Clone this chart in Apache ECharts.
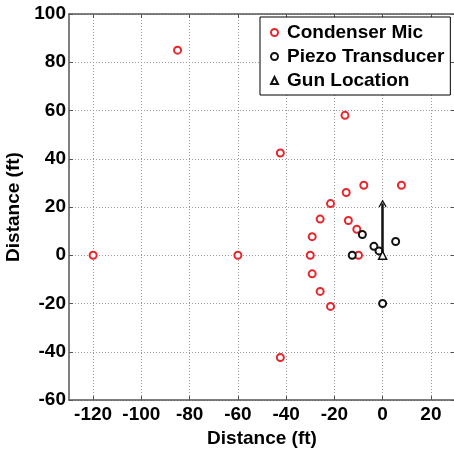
<!DOCTYPE html>
<html><head><meta charset="utf-8">
<script src="https://cdn.jsdelivr.net/npm/echarts@6/dist/echarts.min.js"></script>
<style>html,body{margin:0;padding:0;background:#fff}#c{width:454px;height:449px}</style>
</head><body><div id="c"></div>
<script>
const xTicks = [-120, -100, -80, -60, -40, -20, 0, 20];
const yTicks = [-60, -40, -20, 0, 20, 40, 60, 80, 100];
const micX = [-120, -85, -60, -42.4, -42.4, -30, -29.2, -29.2, -25.9, -25.9, -21.6, -21.6, -15.6, -15.1, -14.2, -10.7, -10, -7.8, 7.8];
const micY = [0, 85, 0, 42.4, -42.4, 0, 7.7, -7.7, 15, -15, 21.4, -21.2, 58, 26, 14.4, 10.8, 0, 29, 29];
const piezoX = [-12.6, -8.4, -3.6, -1.5, 5.4, 0];
const piezoY = [0, 8.6, 3.7, 1.8, 5.7, -20];
const gunX = [0];
const gunY = [0];
const arrowFrom = [0, 0];
const arrowTo = [0, 21.5];

const font = 'Liberation Sans';
const axisColor = '#555';
const chart = echarts.init(document.getElementById('c'));
const zip = (a, b) => a.map((v, i) => [v, b[i]]);
const txt = {fontFamily: font, fontSize: 19, fontWeight: 'bold', color: '#000'};
const axisCommon = {
  axisLine: {onZero: false, lineStyle: {color: axisColor, width: 1.5}},
  axisTick: {inside: true, length: 4, lineStyle: {color: axisColor}},
};
chart.setOption({
  animation: false,
  grid: {left: 69, top: 14, width: 386, height: 386, containLabel: false, outerBoundsMode: 'none'},
  legend: {
    orient: 'vertical', left: 260, top: 17,
    backgroundColor: '#fff', borderColor: '#000', borderWidth: 1,
    padding: [6, 6, 5, 10], itemGap: 5, itemWidth: 7, itemHeight: 7,
    textStyle: {...txt, lineHeight: 19, padding: [0, 0, 0, 4]},
    data: ['Condenser Mic', 'Piezo Transducer', 'Gun Location']
  },
  xAxis: [{
    type: 'value', min: -130, max: 30,
    name: 'Distance (ft)', nameLocation: 'middle', nameGap: 26,
    nameTextStyle: txt,
    ...axisCommon,
    axisTick: {inside: true, length: 4, lineStyle: {color: axisColor}, customValues: xTicks},
    axisLabel: {...txt, margin: 5, customValues: xTicks},
    splitLine: {show: true, lineStyle: {color: '#999', type: [1, 2], width: 1}}
  }, {
    type: 'value', min: -130, max: 30, position: 'top',
    ...axisCommon,
    axisTick: {inside: true, length: 4, lineStyle: {color: axisColor}, customValues: xTicks},
    axisLabel: {show: false, customValues: xTicks},
    splitLine: {show: false}
  }],
  yAxis: [{
    type: 'value', min: -60, max: 100, interval: 20,
    name: 'Distance (ft)', nameLocation: 'middle', nameGap: 40,
    nameTextStyle: txt,
    ...axisCommon,
    axisLabel: {...txt, margin: 3},
    splitLine: {show: true, lineStyle: {color: '#999', type: [1, 2], width: 1}}
  }, {
    type: 'value', min: -60, max: 100, interval: 20, position: 'right',
    ...axisCommon,
    axisLabel: {show: false},
    splitLine: {show: false}
  }],
  series: [{
    name: 'Condenser Mic', type: 'scatter', data: zip(micX, micY),
    symbol: 'circle', symbolSize: 7,
    itemStyle: {color: '#fff', borderColor: '#e8262b', borderWidth: 2, opacity: 1}
  }, {
    name: 'Piezo Transducer', type: 'scatter', data: zip(piezoX, piezoY),
    symbol: 'circle', symbolSize: 7,
    itemStyle: {color: '#fff', borderColor: '#111', borderWidth: 2, opacity: 1}
  }, {
    name: 'Gun Location', type: 'scatter', data: zip(gunX, gunY),
    symbol: 'triangle', symbolSize: 8, z: 5,
    itemStyle: {color: '#fff', borderColor: '#111', borderWidth: 1.5, opacity: 1}
  }, {
    type: 'lines', coordinateSystem: 'cartesian2d', z: 4,
    symbol: ['none', 'path://M0 0 L6 8 L4.6 9 L0 3 L-4.6 9 L-6 8 Z'], symbolSize: [8, 8],
    lineStyle: {color: '#111', width: 2.5, opacity: 1},
    data: [{coords: [arrowFrom, arrowTo]}]
  }]
});
</script></body></html>
